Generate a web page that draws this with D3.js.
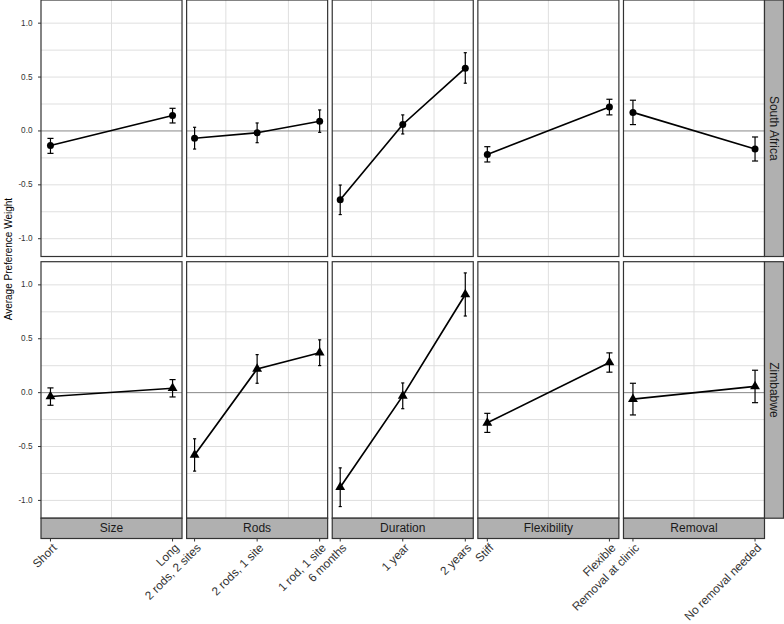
<!DOCTYPE html>
<html>
<head>
<meta charset="utf-8">
<script src="https://cdn.jsdelivr.net/npm/d3@7/dist/d3.min.js"></script>
<style>
  html, body { margin: 0; padding: 0; background: #ffffff; }
  svg { display: block; font-family: "Liberation Sans", Arial, sans-serif; }
</style>
</head>
<body>
<svg id="chart" width="784" height="624"></svg>
<script>
// ---------------- data ----------------
const attributes = ["Size", "Rods", "Duration", "Flexibility", "Removal"];
const levelLabels = [
  ["Short", "Long"],
  ["2 rods, 2 sites", "2 rods, 1 site", "1 rod, 1 site"],
  ["6 months", "1 year", "2 years"],
  ["Stiff", "Flexible"],
  ["Removal at clinic", "No removal needed"]
];
const countries = ["South Africa", "Zimbabwe"];

const saEstimate = [[-0.135, 0.143], [-0.068, -0.017, 0.090], [-0.638, 0.060, 0.582], [-0.218, 0.222], [0.172, -0.167]];
const saLower    = [[-0.208, 0.074], [-0.168, -0.109, -0.013], [-0.776, -0.028, 0.443], [-0.288, 0.149], [0.059, -0.279]];
const saUpper    = [[-0.069, 0.210], [0.034, 0.074, 0.195], [-0.502, 0.149, 0.726], [-0.146, 0.294], [0.285, -0.056]];

const zwEstimate = [[-0.036, 0.041], [-0.578, 0.220, 0.370], [-0.877, -0.030, 0.911], [-0.280, 0.280], [-0.060, 0.058]];
const zwLower    = [[-0.117, -0.040], [-0.728, 0.087, 0.251], [-1.057, -0.149, 0.711], [-0.369, 0.190], [-0.207, -0.093]];
const zwUpper    = [[0.044, 0.121], [-0.428, 0.353, 0.490], [-0.698, 0.090, 1.111], [-0.192, 0.369], [0.087, 0.208]];

const yTicks = [-1.0, -0.5, 0.0, 0.5, 1.0];
const yGrid = [-1.0, -0.75, -0.5, -0.25, 0.25, 0.5, 0.75, 1.0];
const yLabel = "Average Preference Weight";

// ---------------- layout ----------------
const svg = d3.select("#chart");
const plotLeft = 41, plotRight = 764.5, colGap = 4.6;
const nCols = attributes.length;
const panelW = (plotRight - plotLeft - colGap * (nCols - 1)) / nCols;
const rowTop = [0, 261.7];
const panelH = 256.5;
const stripH = 20.3;
const rightStripW = 19;
const capW = 0.05; // error bar cap width in x units

const colors = {
  grid: "#dfdfdf", border: "#333333", strip: "#b0b0b0",
  zero: "#888888", ink: "#000000", axisText: "#333333", stripText: "#1a1a1a"
};

const rows = [
  { name: countries[0], est: saEstimate, lo: saLower, hi: saUpper, shape: "circle" },
  { name: countries[1], est: zwEstimate, lo: zwLower, hi: zwUpper, shape: "triangle" }
];

const yDomain = [-1.165, 1.215];

rows.forEach((row, ri) => {
  const top = rowTop[ri];
  const y = d3.scaleLinear().domain(yDomain).range([top + panelH, top]);

  attributes.forEach((attr, ci) => {
    const left = plotLeft + ci * (panelW + colGap);
    const n = levelLabels[ci].length;
    const span = (n - 1) + capW;
    const x = d3.scaleLinear()
      .domain([1 - capW / 2 - 0.05 * span, n + capW / 2 + 0.05 * span])
      .range([left, left + panelW]);

    const g = svg.append("g");
    g.append("rect").attr("x", left).attr("y", top).attr("width", panelW).attr("height", panelH)
      .attr("fill", "#ffffff");
    g.selectAll("line.hg").data(yGrid).enter().append("line")
      .attr("x1", left).attr("x2", left + panelW)
      .attr("y1", d => y(d)).attr("y2", d => y(d))
      .attr("stroke", colors.grid).attr("stroke-width", 1);
    const mids = d3.range(1, n).map(i => i + 0.5);
    g.selectAll("line.vg").data(mids).enter().append("line")
      .attr("x1", d => x(d)).attr("x2", d => x(d))
      .attr("y1", top).attr("y2", top + panelH)
      .attr("stroke", colors.grid).attr("stroke-width", 1);
    g.append("line").attr("x1", left).attr("x2", left + panelW)
      .attr("y1", y(0)).attr("y2", y(0))
      .attr("stroke", colors.zero).attr("stroke-width", 1);

    const pts = row.est[ci].map((v, i) => ({ i: i + 1, v, lo: row.lo[ci][i], hi: row.hi[ci][i] }));

    g.append("path").datum(pts)
      .attr("d", d3.line().x(d => x(d.i)).y(d => y(d.v)))
      .attr("fill", "none").attr("stroke", colors.ink).attr("stroke-width", 1.7);

    const eb = g.selectAll("g.eb").data(pts).enter().append("g");
    eb.append("line").attr("x1", d => x(d.i)).attr("x2", d => x(d.i))
      .attr("y1", d => y(d.lo)).attr("y2", d => y(d.hi))
      .attr("stroke", colors.ink).attr("stroke-width", 1.2);
    eb.append("line").attr("x1", d => x(d.i - capW / 2)).attr("x2", d => x(d.i + capW / 2))
      .attr("y1", d => y(d.lo)).attr("y2", d => y(d.lo))
      .attr("stroke", colors.ink).attr("stroke-width", 1.2);
    eb.append("line").attr("x1", d => x(d.i - capW / 2)).attr("x2", d => x(d.i + capW / 2))
      .attr("y1", d => y(d.hi)).attr("y2", d => y(d.hi))
      .attr("stroke", colors.ink).attr("stroke-width", 1.2);

    if (row.shape === "circle") {
      g.selectAll("circle.pt").data(pts).enter().append("circle")
        .attr("cx", d => x(d.i)).attr("cy", d => y(d.v)).attr("r", 3.5)
        .attr("fill", colors.ink);
    } else {
      g.selectAll("path.pt").data(pts).enter().append("path")
        .attr("d", d3.symbol().type(d3.symbolTriangle).size(42))
        .attr("transform", d => `translate(${x(d.i)},${y(d.v)})`)
        .attr("fill", colors.ink);
    }

    g.append("rect").attr("x", left).attr("y", top).attr("width", panelW).attr("height", panelH)
      .attr("fill", "none").attr("stroke", colors.border).attr("stroke-width", 1.2);

    if (ri === rows.length - 1) {
      const sTop = top + panelH;
      g.append("rect").attr("x", left).attr("y", sTop).attr("width", panelW).attr("height", stripH)
        .attr("fill", colors.strip).attr("stroke", colors.border).attr("stroke-width", 1.2);
      g.append("text").attr("x", left + panelW / 2).attr("y", sTop + stripH / 2)
        .attr("text-anchor", "middle").attr("dominant-baseline", "central")
        .attr("font-size", 12).attr("fill", colors.stripText).text(attr);

      const axTop = sTop + stripH;
      const ticksG = g.selectAll("g.xt").data(levelLabels[ci]).enter().append("g");
      ticksG.append("line")
        .attr("x1", (d, i) => x(i + 1)).attr("x2", (d, i) => x(i + 1))
        .attr("y1", axTop).attr("y2", axTop + 3)
        .attr("stroke", colors.border).attr("stroke-width", 1);
      ticksG.append("text")
        .attr("transform", (d, i) => `translate(${x(i + 1) + 1},${axTop + 4}) rotate(-45)`)
        .attr("text-anchor", "end").attr("dy", "0.72em")
        .attr("font-size", 11.8).attr("fill", colors.axisText).text(d => d);
    }

    if (ci === 0) {
      const ya = g.selectAll("g.yt").data(yTicks).enter().append("g");
      ya.append("line").attr("x1", left - 3).attr("x2", left)
        .attr("y1", d => y(d)).attr("y2", d => y(d))
        .attr("stroke", colors.border).attr("stroke-width", 1);
      ya.append("text").attr("x", left - 8.5).attr("y", d => y(d))
        .attr("text-anchor", "end").attr("dominant-baseline", "central")
        .attr("font-size", 8.2).attr("fill", colors.axisText)
        .text(d => d3.format(".1f")(d).replace("−", "-"));
    }
  });

  const sx = plotRight;
  svg.append("rect").attr("x", sx).attr("y", top).attr("width", rightStripW).attr("height", panelH)
    .attr("fill", colors.strip).attr("stroke", colors.border).attr("stroke-width", 1.2);
  svg.append("text")
    .attr("transform", `translate(${sx + rightStripW / 2},${top + panelH / 2}) rotate(90)`)
    .attr("text-anchor", "middle").attr("dominant-baseline", "central")
    .attr("font-size", 12).attr("fill", colors.stripText).text(row.name);
});

svg.append("text")
  .attr("transform", `translate(8,${(rowTop[0] + rowTop[1] + panelH) / 2}) rotate(-90)`)
  .attr("text-anchor", "middle").attr("dominant-baseline", "central")
  .attr("font-size", 10).attr("fill", "#000000").text(yLabel);
</script>
</body>
</html>
